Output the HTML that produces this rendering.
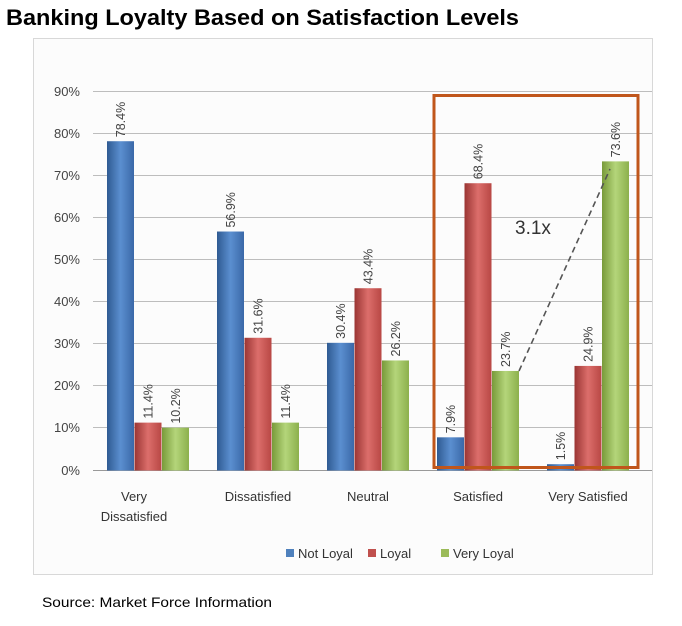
<!DOCTYPE html>
<html><head><meta charset="utf-8"><style>
body{margin:0;background:#fff;width:682px;height:621px;overflow:hidden;font-family:"Liberation Sans",sans-serif}
</style></head><body>
<svg width="682" height="621" xmlns="http://www.w3.org/2000/svg" font-family="Liberation Sans, sans-serif">
<defs>
<linearGradient id="b" x1="0" x2="1"><stop offset="0" stop-color="#2f5a92"/><stop offset="0.5" stop-color="#5b8fd0"/><stop offset="1" stop-color="#3a68a8"/></linearGradient>
<linearGradient id="r" x1="0" x2="1"><stop offset="0" stop-color="#9a3533"/><stop offset="0.5" stop-color="#dc6e6b"/><stop offset="1" stop-color="#b84744"/></linearGradient>
<linearGradient id="g" x1="0" x2="1"><stop offset="0" stop-color="#789a3a"/><stop offset="0.5" stop-color="#b4d57a"/><stop offset="1" stop-color="#8cb04c"/></linearGradient>
</defs>
<text x="6" y="25" font-size="22" font-weight="bold" fill="#000" textLength="513" lengthAdjust="spacingAndGlyphs">Banking Loyalty Based on Satisfaction Levels</text>
<rect x="33.5" y="38.5" width="619" height="536" fill="#fcfcfc" stroke="#d8d8d8"/>
<g stroke="#bdbdbd" stroke-width="1">
<line x1="93" x2="652" y1="91.5" y2="91.5"/><line x1="93" x2="652" y1="133.5" y2="133.5"/>
<line x1="93" x2="652" y1="175.5" y2="175.5"/><line x1="93" x2="652" y1="217.5" y2="217.5"/>
<line x1="93" x2="652" y1="259.5" y2="259.5"/><line x1="93" x2="652" y1="301.5" y2="301.5"/>
<line x1="93" x2="652" y1="343.5" y2="343.5"/><line x1="93" x2="652" y1="385.5" y2="385.5"/>
<line x1="93" x2="652" y1="427.5" y2="427.5"/><line x1="93" x2="652" y1="470.5" y2="470.5" stroke="#999"/>
</g>
<g font-size="13" fill="#444" text-anchor="end">
<text x="80" y="96">90%</text><text x="80" y="138">80%</text><text x="80" y="180">70%</text>
<text x="80" y="222">60%</text><text x="80" y="264">50%</text><text x="80" y="306">40%</text>
<text x="80" y="348">30%</text><text x="80" y="390">20%</text><text x="80" y="432">10%</text><text x="80" y="475">0%</text>
</g>
<g id="bars"></g>
<g font-size="12.5" fill="#444" id="lbl"></g>
<rect x="434" y="95.5" width="204" height="372" fill="none" stroke="#c0561b" stroke-width="3"/>
<line x1="519" y1="371" x2="610" y2="169" stroke="#555" stroke-width="1.6" stroke-dasharray="6,4"/>
<text x="515" y="234" font-size="19" fill="#333">3.1x</text>
<g font-size="13" fill="#333" text-anchor="middle">
<text x="134" y="501">Very</text><text x="134" y="521">Dissatisfied</text>
<text x="258" y="501">Dissatisfied</text><text x="368" y="501">Neutral</text>
<text x="478" y="501">Satisfied</text><text x="588" y="501">Very Satisfied</text>
</g>
<g font-size="13" fill="#333">
<rect x="286" y="549" width="8" height="8" fill="#4f81bd"/><text x="298" y="558">Not Loyal</text>
<rect x="368" y="549" width="8" height="8" fill="#c0504d"/><text x="380" y="558">Loyal</text>
<rect x="441" y="549" width="8" height="8" fill="#9bbb59"/><text x="453" y="558">Very Loyal</text>
</g>
<text x="42" y="607" font-size="14" fill="#000" textLength="230" lengthAdjust="spacingAndGlyphs">Source: Market Force Information</text>
<script>
var d=[[78.4,11.4,10.2],[56.9,31.6,11.4],[30.4,43.4,26.2],[7.9,68.4,23.7],[1.5,24.9,73.6]];
var fills=["url(#b)","url(#r)","url(#g)"];var ns="http://www.w3.org/2000/svg";
var B=document.getElementById("bars"),L=document.getElementById("lbl");
d.forEach(function(g,i){g.forEach(function(v,j){var x=107+i*110+j*27.5,h=v*4.2,y=470.5-h;
var r=document.createElementNS(ns,"rect");r.setAttribute("x",x);r.setAttribute("y",y);r.setAttribute("width",27);r.setAttribute("height",h);r.setAttribute("fill",fills[j]);B.appendChild(r);
var t=document.createElementNS(ns,"text");var cx=x+18,cy=y-4;t.setAttribute("x",cx);t.setAttribute("y",cy);t.setAttribute("transform","rotate(-90 "+cx+" "+cy+")");t.textContent=v.toFixed(1)+"%";L.appendChild(t);});});
</script>
</svg>
</body></html>
